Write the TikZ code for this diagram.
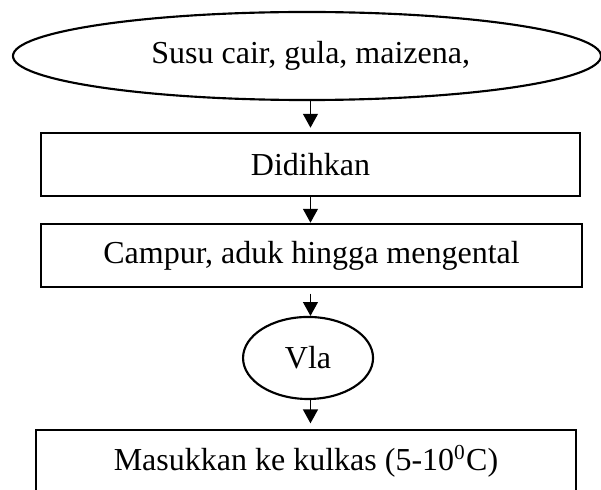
\documentclass[tikz,border=0pt]{standalone}
\usepackage{fontspec}
\setmainfont{Liberation Serif}
\usetikzlibrary{arrows.meta, shapes.geometric}
\tikzset{
  ebox/.style={    % terminal (ellipse)
    draw=black, ellipse, inner sep=0pt, line width=0.8pt,
    font=\fontsize{12}{14}\selectfont
  },
  pbox/.style={    % process step (rectangle)
    draw=black, rectangle, inner sep=0pt, line width=1pt,
    minimum height=0.83cm, font=\fontsize{12}{14}\selectfont
  },
  darr/.style={-{Triangle[length=5.2pt, width=5.6pt]}, line width=0.5pt},
}
\begin{document}
\begin{tikzpicture}
\useasboundingbox (0,0) rectangle (7.919,-6.444);

%% ─── nodes ─────────────────────────────────────────────
\node[ebox, minimum width=7.748cm, minimum height=1.16cm]
  (bahan) at (4.045,-0.738) {\hspace{0.1cm}Susu cair, gula, maizena,};
\node[pbox, minimum width=7.102cm] (didih)  at (4.091,-2.168) {Didihkan};
\node[pbox, minimum width=7.129cm] (campur) at (4.105,-3.367) {Campur, aduk hingga mengental};
\node[ebox, minimum width=1.713cm, minimum height=1.081cm]
  (vla) at (4.059,-4.717) {Vla};
\node[pbox, minimum width=7.116cm] (kulkas) at (4.032,-6.081)
  {Masukkan ke kulkas (5-10\textsuperscript{0}C)};

%% ─── arrows (all on one vertical line) ─────────────────
\draw[darr, shorten >=1.5pt] (didih.north |- bahan.south)  -- (didih.north);
\draw[darr]                  (didih.south)                 -- (didih.south |- campur.north);
\draw[darr, shorten <=2pt]   (didih.north |- campur.south) -- (didih.north |- vla.north);
\draw[darr, shorten >=2pt]   (didih.north |- vla.south)    -- (didih.north |- kulkas.north);

\end{tikzpicture}
\end{document}
